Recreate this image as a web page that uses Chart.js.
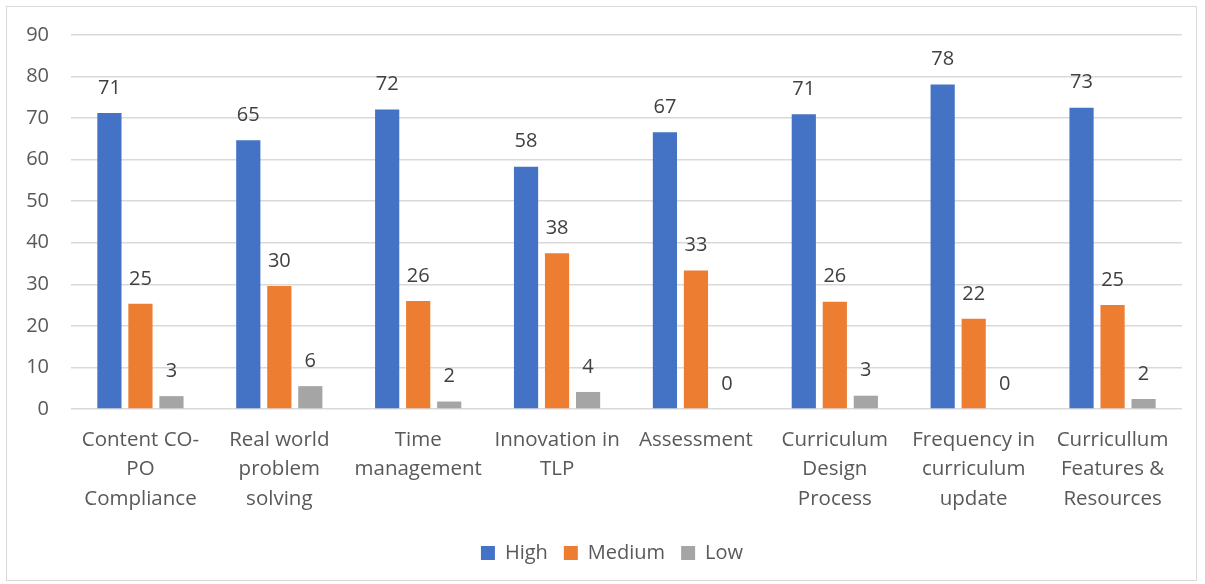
<!DOCTYPE html>
<html>
<head>
<meta charset="utf-8">
<script src="https://cdn.jsdelivr.net/npm/chart.js@4/dist/chart.umd.min.js"></script>
<style>
    body { margin: 0; background: #fff; }
    #frame { position: absolute; left: 6px; top: 6px; width: 1189px; height: 573px; border: 1px solid #d9d9d9; }
    #chart { position: absolute; left: 0; top: 0; }
</style>
</head>
<body>
<div id="frame"></div>
<canvas id="chart" width="1205" height="584"></canvas>
<script>
// Categories (wrapped the way the source chart shows them)
const categories = [
    ['Content CO-', 'PO', 'Compliance'],
    ['Real world', 'problem', 'solving'],
    ['Time', 'management'],
    ['Innovation in', 'TLP'],
    ['Assessment'],
    ['Curriculum', 'Design', 'Process'],
    ['Frequency in', 'curriculum', 'update'],
    ['Curricullum', 'Features &', 'Resources']
];

// Series values (percent)
const highValues = [71.2, 64.7, 72.1, 58.3, 66.6, 70.9, 78.1, 72.5];
const mediumValues = [25.3, 29.6, 26.0, 37.5, 33.3, 25.8, 21.7, 25.0];
const lowValues = [3.1, 5.5, 1.8, 4.1, 0, 3.2, 0, 2.4];

const seriesNames = ['High', 'Medium', 'Low'];
const seriesColors = ['#4472C4', '#ED7D31', '#A5A5A5'];

// Small plugin to write the rounded value above each bar
const valueLabels = {
    id: 'valueLabels',
    afterLayout(chart) {
        // centre the legend under the plot area rather than the canvas
        chart.legend.left += 21;
        chart.legend.right += 21;
    },
    afterDatasetsDraw(chart) {
        const ctx = chart.ctx;
        ctx.save();
        ctx.font = '20px "Open Sans"';
        ctx.fillStyle = '#404040';
        ctx.textAlign = 'center';
        ctx.textBaseline = 'middle';
        chart.data.datasets.forEach((ds, i) => {
            chart.getDatasetMeta(i).data.forEach((bar, j) => {
                ctx.fillText(Math.round(ds.data[j]), bar.x, bar.y - 25);
            });
        });
        ctx.restore();
    }
};

const ctx = document.getElementById('chart').getContext('2d');
new Chart(ctx, {
    type: 'bar',
    data: {
        labels: categories,
        datasets: [highValues, mediumValues, lowValues].map((vals, i) => ({
            label: seriesNames[i],
            data: vals,
            backgroundColor: seriesColors[i],
            categoryPercentage: 0.67,
            barPercentage: 0.78
        }))
    },
    options: {
        responsive: false,
        animation: false,
        layout: { padding: { top: 35, right: 23, bottom: 11, left: 0 } },
        plugins: {
            legend: {
                position: 'bottom',
                labels: {
                    boxWidth: 14,
                    boxHeight: 14,
                    padding: 16,
                    color: '#595959',
                    font: { family: 'Open Sans', size: 20 }
                }
            },
            tooltip: { enabled: false }
        },
        scales: {
            x: {
                grid: { display: false, drawTicks: false },
                border: { display: false },
                ticks: {
                    padding: 16,
                    color: '#595959',
                    font: { family: 'Open Sans', size: 20.5, lineHeight: 1.45 }
                },
                afterFit(scale) { scale.height = 118; }
            },
            y: {
                min: 0,
                max: 90,
                grid: { color: '#d9d9d9', lineWidth: 1.5, drawTicks: false },
                border: { display: false },
                ticks: {
                    stepSize: 10,
                    padding: 22,
                    color: '#595959',
                    font: { family: 'Open Sans', size: 20 }
                },
                afterFit(scale) { scale.width = 71; }
            }
        }
    },
    plugins: [valueLabels]
});
</script>
</body>
</html>
